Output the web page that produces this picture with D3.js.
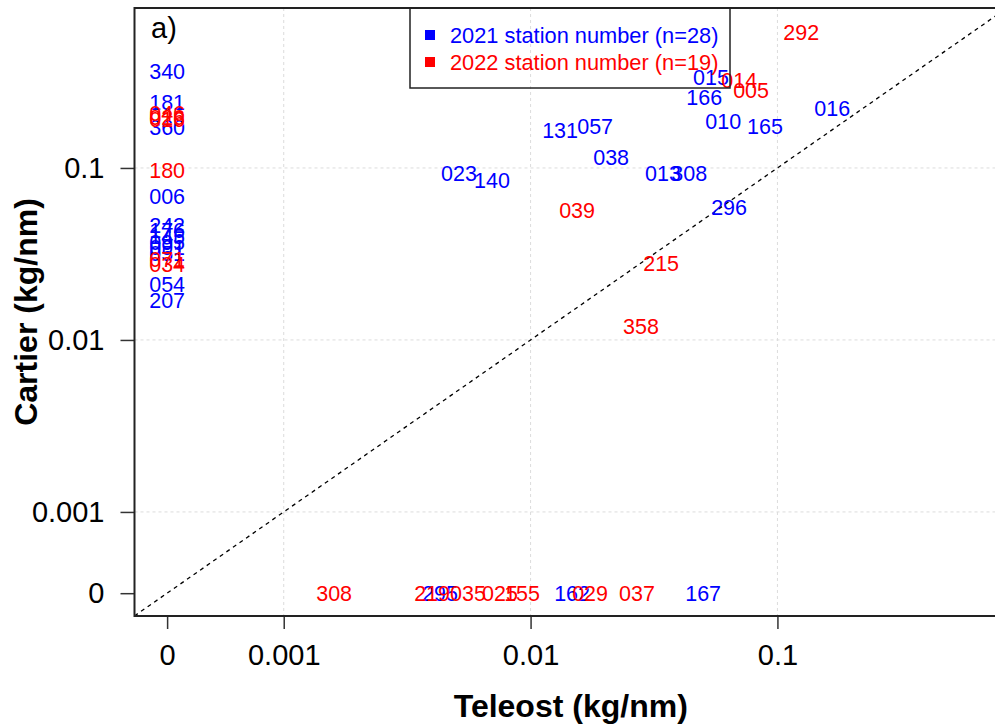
<!DOCTYPE html>
<html>
<head>
<meta charset="utf-8">
<script src="https://cdn.jsdelivr.net/npm/d3@7"></script>
<style>
  html, body { margin: 0; padding: 0; background: #fff; }
  svg { display: block; font-family: "Liberation Sans", Arial, Helvetica, sans-serif; }
</style>
</head>
<body>
<svg id="chart" width="995" height="727"></svg>
<script>
// ---- data ----
const stations2021 = ["340","181","360","006","242","176","145","095","091","051","054","207",
  "015","166","010","165","016","131","057","038","013","308","296","023","140","295","162","167"];
const teleost2021 = [0,0,0,0,0,0,0,0,0,0,0,0,
  0.0538,0.0505,0.0603,0.0891,0.1668,0.01317,0.01826,0.0212,0.0344,0.0439,0.0637,0.00513,0.00698,0.0043,0.01473,0.0500];
const cartier2021 = [0.366,0.242,0.173,0.0687,0.0467,0.0437,0.0403,0.0372,0.0348,0.0321,0.0212,0.0169,
  0.338,0.259,0.1875,0.1754,0.2234,0.1663,0.1754,0.1159,0.0935,0.0935,0.0593,0.0935,0.0851,0,0,0];

const stations2022 = ["046","026","016","180","071","034","292","014","005","039","215","358",
  "308","219","035","025","155","029","037"];
const teleost2022 = [0,0,0,0,0,0,0.1248,0.0700,0.0782,0.01543,0.0338,0.0280,
  0.0016,0.00399,0.00558,0.00752,0.00924,0.01742,0.0270];
const cartier2022 = [0.209,0.198,0.193,0.0973,0.0296,0.0277,0.618,0.325,0.2838,0.0570,0.0281,0.01205,
  0,0,0,0,0,0,0];

const xTickValues = [0, 0.001, 0.01, 0.1];
const xTickLabels = ["0", "0.001", "0.01", "0.1"];
const yTickValues = [0, 0.001, 0.01, 0.1];
const yTickLabels = ["0", "0.001", "0.01", "0.1"];
const gridValues = [0.001, 0.01, 0.1];

const legendLabels = ["2021 station number (n=28)", "2022 station number (n=19)"];
const seriesColors = ["#0000ff", "#ff0000"];

// ---- layout ----
const ZERO = 0.000337; // position at which zero values are drawn on the log axes
const plot = { left: 134.5, right: 1007, top: 8, bottom: 616 };

const x = d3.scaleLog().domain([Math.pow(10, -3.6045), Math.pow(10, -0.07)]).range([plot.left, plot.right]);
const y = d3.scaleLog().domain([Math.pow(10, -3.605), Math.pow(10, -0.07)]).range([plot.bottom, plot.top]);
const px = v => x(v === 0 ? ZERO : v);
const py = v => y(v === 0 ? ZERO : v);

const svg = d3.select("#chart");

svg.append("defs").append("clipPath").attr("id", "clip")
  .append("rect").attr("x", plot.left).attr("y", plot.top)
  .attr("width", plot.right - plot.left).attr("height", plot.bottom - plot.top);

// grid
const grid = svg.append("g").attr("stroke", "#dcdcdc").attr("stroke-width", 1).attr("stroke-dasharray", "3,3");
grid.selectAll("line.vx").data(gridValues).join("line")
  .attr("x1", d => x(d)).attr("x2", d => x(d)).attr("y1", plot.top).attr("y2", plot.bottom);
grid.selectAll("line.hy").data(gridValues).join("line")
  .attr("y1", d => y(d)).attr("y2", d => y(d)).attr("x1", plot.left).attr("x2", plot.right);

// 1:1 line
const dom = x.domain();
svg.append("line").attr("clip-path", "url(#clip)")
  .attr("x1", x(dom[0])).attr("y1", y(dom[0])).attr("x2", x(dom[1])).attr("y2", y(dom[1]))
  .attr("stroke", "#000").attr("stroke-width", 1.3).attr("stroke-dasharray", "4,4");

// axes
const xAxis = d3.axisBottom(x)
  .tickValues(xTickValues.map(v => v === 0 ? ZERO : v))
  .tickFormat((d, i) => xTickLabels[i]).tickSize(13).tickPadding(4);
const gx = svg.append("g").attr("transform", `translate(0,${plot.bottom})`).call(xAxis);
gx.select(".domain").remove();
gx.selectAll(".tick line").attr("stroke", "#333").attr("stroke-width", 1.5);
gx.selectAll(".tick text").attr("font-size", 29).attr("fill", "#000")
  .attr("font-family", "Liberation Sans, Arial, sans-serif").attr("dy", "0.71em").attr("y", 28);

const yAxis = d3.axisLeft(y)
  .tickValues(yTickValues.map(v => v === 0 ? ZERO : v))
  .tickFormat((d, i) => yTickLabels[i]).tickSize(14).tickPadding(16);
const gy = svg.append("g").attr("transform", `translate(${plot.left},0)`).call(yAxis);
gy.select(".domain").remove();
gy.selectAll(".tick line").attr("stroke", "#333").attr("stroke-width", 1.5);
gy.selectAll(".tick text").attr("font-size", 29).attr("fill", "#000")
  .attr("font-family", "Liberation Sans, Arial, sans-serif");

// frame
svg.append("rect").attr("x", plot.left).attr("y", plot.top)
  .attr("width", plot.right - plot.left).attr("height", plot.bottom - plot.top)
  .attr("fill", "none").attr("stroke", "#222").attr("stroke-width", 2);

// labels (points drawn as station number text)
const series = [
  { st: stations2021, xs: teleost2021, ys: cartier2021, color: seriesColors[0] },
  { st: stations2022, xs: teleost2022, ys: cartier2022, color: seriesColors[1] }
];
series.forEach(s => {
  svg.append("g").selectAll("text").data(s.st).join("text")
    .attr("x", (d, i) => px(s.xs[i]))
    .attr("y", (d, i) => py(s.ys[i]))
    .attr("dy", "0.36em")
    .attr("text-anchor", "middle")
    .attr("font-size", 21.5)
    .attr("fill", s.color)
    .text(d => d);
});

// legend
const lg = svg.append("g");
lg.append("rect").attr("x", 410).attr("y", 8).attr("width", 320).attr("height", 80)
  .attr("fill", "none").attr("stroke", "#222").attr("stroke-width", 1.5);
legendLabels.forEach((t, i) => {
  const cy = 35 + i * 27;
  lg.append("rect").attr("x", 425).attr("y", cy - 5).attr("width", 10).attr("height", 10)
    .attr("fill", seriesColors[i]);
  lg.append("text").attr("x", 450).attr("y", cy).attr("dy", "0.36em")
    .attr("font-size", 21.8).attr("fill", seriesColors[i]).text(t);
});

// panel tag
svg.append("text").attr("x", 151).attr("y", 38).attr("font-size", 29).attr("fill", "#000").text("a)");

// axis titles
svg.append("text").attr("x", (plot.left + plot.right) / 2).attr("y", 717)
  .attr("text-anchor", "middle").attr("font-size", 32).attr("font-weight", "bold").text("Teleost (kg/nm)");
svg.append("text").attr("transform", `translate(37,${(plot.top + plot.bottom) / 2}) rotate(-90)`)
  .attr("text-anchor", "middle").attr("font-size", 32).attr("font-weight", "bold").text("Cartier (kg/nm)");
</script>
</body>
</html>
